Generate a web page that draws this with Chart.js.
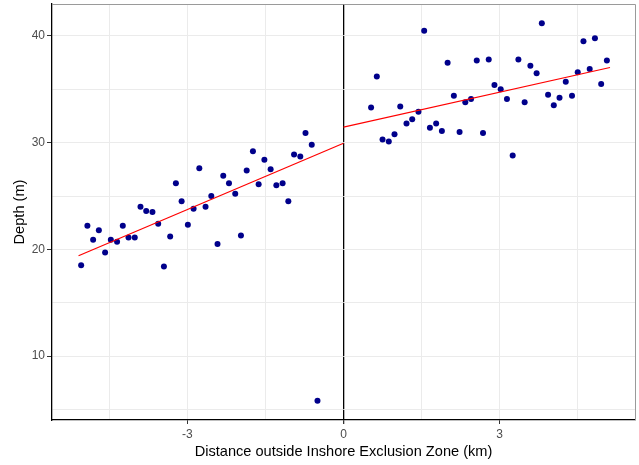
<!DOCTYPE html>
<html>
<head>
<meta charset="utf-8">
<script src="https://cdn.jsdelivr.net/npm/chart.js@4/dist/chart.umd.min.js"></script>
<style>
  html, body { margin: 0; padding: 0; background: #fff; }
  #depth-chart { display: block; }
</style>
</head>
<body>
<canvas id="depth-chart" width="639" height="465"></canvas>
<script>
// distance (km) and depth (m) of samples, inside (negative) and outside the zone
const insideDistance = [
  -5.04, -4.92, -4.81, -4.70, -4.58, -4.47, -4.35, -4.24, -4.13, -4.01,
  -3.90, -3.79, -3.67, -3.56, -3.45, -3.33, -3.22, -3.11, -2.99, -2.88,
  -2.77, -2.65, -2.54, -2.42, -2.31, -2.20, -2.08, -1.97, -1.86, -1.74,
  -1.63, -1.52, -1.40, -1.29, -1.17, -1.06, -0.95, -0.83, -0.73, -0.61, -0.50
];
const insideDepth = [
  18.5, 22.2, 20.9, 21.8, 19.7, 20.9, 20.7, 22.2, 21.1, 21.1,
  24.0, 23.6, 23.5, 22.4, 18.4, 21.2, 26.2, 24.5, 22.3, 23.8,
  27.6, 24.0, 25.0, 20.5, 26.9, 26.2, 25.2, 21.3, 27.4, 29.2,
  26.1, 28.4, 27.5, 26.0, 26.2, 24.5, 28.9, 28.7, 30.9, 29.8, 5.8
];
const outsideDistance = [
  0.53, 0.64, 0.75, 0.87, 0.98, 1.09, 1.21, 1.32, 1.44, 1.55,
  1.66, 1.78, 1.89, 2.00, 2.12, 2.23, 2.34, 2.45, 2.56, 2.68,
  2.79, 2.90, 3.02, 3.14, 3.25, 3.36, 3.48, 3.59, 3.71, 3.81,
  3.93, 4.04, 4.15, 4.27, 4.39, 4.50, 4.61, 4.73, 4.83, 4.95, 5.06
];
const outsideDepth = [
  33.3, 36.2, 30.3, 30.1, 30.8, 33.4, 31.8, 32.2, 32.9, 40.5,
  31.4, 31.8, 31.1, 37.5, 34.4, 31.0, 33.8, 34.1, 37.7, 30.9,
  37.8, 35.4, 35.0, 34.1, 28.8, 37.8, 33.8, 37.2, 36.5, 41.2,
  34.5, 33.5, 34.2, 35.7, 34.4, 36.6, 39.5, 36.9, 39.8, 35.5, 37.7
];

// fitted lines (end points)
const insideFitX = [-5.09, 0];
const insideFitY = [19.4, 29.95];
const outsideFitX = [0, 5.12];
const outsideFitY = [31.45, 37.05];

const xMajorTicks = [-3, 0, 3];
const xMinorTicks = [-4.5, -1.5, 1.5, 4.5];
const yMajorTicks = [10, 20, 30, 40];
const yMinorTicks = [5, 15, 25, 35];

const toPoints = (xs, ys) => xs.map((x, i) => ({ x: x, y: ys[i] }));

const GRID = "#ebebeb";
const TEXT = "#4d4d4d";
const FONT = "'Liberation Sans', Arial, sans-serif";

function setTicks(major, minor) {
  return (scale) => {
    scale.ticks = major.concat(minor).sort((a, b) => a - b).map((v) => ({ value: v }));
  };
}

// grey frame on top and right like the panel border
const panelBorder = {
  id: "panelBorder",
  afterDraw(chart) {
    const { ctx, chartArea: a } = chart;
    ctx.save();
    ctx.strokeStyle = "#9a9a9a";
    ctx.lineWidth = 1;
    ctx.beginPath();
    ctx.moveTo(a.left, a.top + 0.5);
    ctx.lineTo(a.right + 0.5, a.top + 0.5);
    ctx.lineTo(a.right + 0.5, a.bottom);
    ctx.stroke();
    ctx.restore();
  },
};

const chart = new Chart(document.getElementById("depth-chart"), {
  type: "scatter",
  data: {
    datasets: [
      {
        label: "inside fit",
        data: toPoints(insideFitX, insideFitY),
        showLine: true,
        borderColor: "#ff0000",
        borderWidth: 1.2,
        pointRadius: 0,
        order: 0,
      },
      {
        label: "outside fit",
        data: toPoints(outsideFitX, outsideFitY),
        showLine: true,
        borderColor: "#ff0000",
        borderWidth: 1.2,
        pointRadius: 0,
        order: 0,
      },
      {
        label: "inside",
        data: toPoints(insideDistance, insideDepth),
        backgroundColor: "#00008b",
        borderColor: "#00008b",
        pointRadius: 3,
        borderWidth: 0,
        order: 1,
      },
      {
        label: "outside",
        data: toPoints(outsideDistance, outsideDepth),
        backgroundColor: "#00008b",
        borderColor: "#00008b",
        pointRadius: 3,
        borderWidth: 0,
        order: 1,
      },
    ],
  },
  options: {
    responsive: false,
    animation: false,
    devicePixelRatio: 1,
    layout: { padding: { top: 2, right: 4, left: 0, bottom: 0 } },
    plugins: {
      legend: { display: false },
      tooltip: { enabled: false },
    },
    scales: {
      x: {
        type: "linear",
        min: -5.6,
        max: 5.6,
        afterBuildTicks: setTicks(xMajorTicks, xMinorTicks),
        afterFit: (scale) => {
          scale.height = 45;
          scale.paddingLeft = 0;
          scale.paddingRight = 0;
        },
        border: { display: true, color: "#000", width: 1.3 },
        grid: {
          color: (ctx) => (ctx.tick && ctx.tick.value === 0 ? "#000" : GRID),
          lineWidth: (ctx) => (ctx.tick && ctx.tick.value === 0 ? 1.3 : 1),
          tickLength: 4,
          tickColor: (ctx) => (ctx.tick && xMajorTicks.includes(ctx.tick.value) ? "#333" : "rgba(0,0,0,0)"),
        },
        ticks: {
          autoSkip: false,
          maxRotation: 0,
          padding: 3,
          color: TEXT,
          font: { family: FONT, size: 12 },
          callback: (v) => (xMajorTicks.includes(v) ? String(v) : ""),
        },
        title: {
          display: true,
          text: "Distance outside Inshore Exclusion Zone (km)",
          color: "#000",
          font: { family: FONT, size: 14.6 },
          padding: { top: 0, bottom: 4 },
        },
      },
      y: {
        type: "linear",
        min: 4.0,
        max: 43.0,
        afterBuildTicks: setTicks(yMajorTicks, yMinorTicks),
        afterFit: (scale) => {
          scale.width = 52;
          scale.paddingTop = 0;
          scale.paddingBottom = 0;
        },
        border: { display: true, color: "#000", width: 1.3 },
        grid: {
          color: GRID,
          lineWidth: 1,
          tickLength: 5,
          tickColor: (ctx) => (ctx.tick && yMajorTicks.includes(ctx.tick.value) ? "#333" : "rgba(0,0,0,0)"),
        },
        ticks: {
          autoSkip: false,
          padding: 2,
          color: TEXT,
          font: { family: FONT, size: 12 },
          callback: (v) => (yMajorTicks.includes(v) ? String(v) : ""),
        },
        title: {
          display: true,
          text: "Depth (m)",
          color: "#000",
          font: { family: FONT, size: 14.6 },
          padding: { top: 11, bottom: 0 },
        },
      },
    },
  },
  plugins: [panelBorder],
});
</script>
</body>
</html>
